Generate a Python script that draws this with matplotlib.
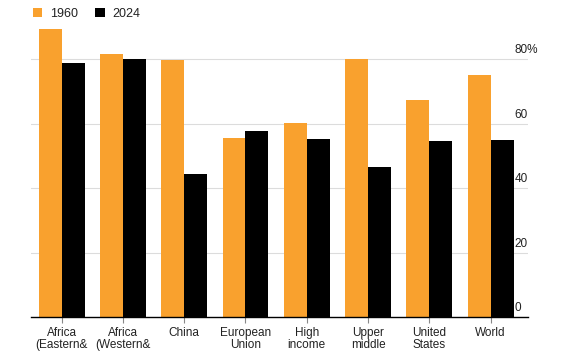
import matplotlib
matplotlib.use("Agg")
import matplotlib.pyplot as plt
import matplotlib.transforms as mtransforms
import numpy as np

categories = ["Africa\n(Eastern&", "Africa\n(Western&", "China", "European\nUnion",
              "High\nincome", "Upper\nmiddle", "United\nStates", "World"]
v1960 = [89.3, 81.5, 79.7, 55.5, 60.2, 80.0, 67.3, 75.0]
v2024 = [78.8, 80.0, 44.3, 57.7, 55.2, 46.5, 54.6, 54.9]
yticks = [0, 20, 40, 60, 80]
ytick_labels = ["0", "20", "40", "60", "80%"]
series_names = ["1960", "2024"]

plt.rcParams['font.family'] = ['Liberation Sans', 'DejaVu Sans']

W, H = 567, 351
fig = plt.figure(figsize=(W/100, H/100), dpi=100)
left, right, bottom, top = 31, 528, 317, 27
ax = fig.add_axes([left/W, 1-bottom/H, (right-left)/W, (bottom-top)/H])

orange = '#F9A12E'
x = np.arange(len(categories))
bw = 0.375
ax.bar(x - bw/2, v1960, width=bw, color=orange, zorder=3, label=series_names[0])
ax.bar(x + bw/2, v2024, width=bw, color='black', zorder=3, label=series_names[1])

ax.set_xlim(-0.5, 7.61)
ax.set_ylim(0, (bottom-top)/3.225)

for s in ['top', 'right', 'left']:
    ax.spines[s].set_visible(False)
ax.spines['bottom'].set_color('black')
ax.spines['bottom'].set_linewidth(1.0)
ax.spines['bottom'].set_zorder(4)

for yv in yticks[1:]:
    ax.axhline(yv, color='#dcdcdc', lw=0.8, zorder=1)

ax.set_yticks([])
ax.set_xticks(x)
ax.set_xticklabels(categories, fontsize=8.5, linespacing=0.98, color='#222222')
ax.tick_params(axis='x', length=4, color='#888888', width=0.8, pad=3)

trans = mtransforms.blended_transform_factory(ax.transData, ax.transData)
for yv, lab in zip(yticks, ytick_labels):
    ax.text(7.39, yv + 0.9, lab, fontsize=8.5, ha='left', va='bottom', color='#222222', transform=trans)

leg = fig.legend(handles=ax.patches[:1] + ax.patches[len(categories):len(categories)+1],
                 labels=series_names, loc='upper left', bbox_to_anchor=(28/W, 1-3/H),
                 ncol=2, frameon=False, fontsize=9, handlelength=0.75, handleheight=0.75,
                 columnspacing=1.4, handletextpad=0.6, borderaxespad=0)
for t in leg.get_texts():
    t.set_color('#222222')

fig.savefig("out.png", dpi=100)
